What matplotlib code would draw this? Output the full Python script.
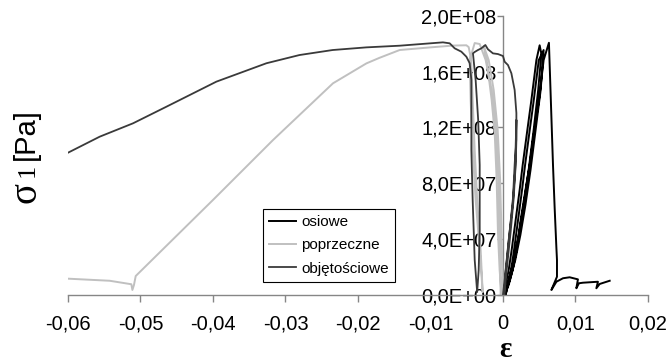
import numpy as np
import matplotlib.pyplot as plt

# odkształcenie osiowe (x) i naprężenie sigma1 (y)
osiowe_eps = [0.00003, 0.00037, 0.00079, 0.00120, 0.00175, 0.00230, 0.00272, 0.00327, 0.00392, 0.00461, 0.00506,
              0.00530, 0.00486, 0.00423, 0.00354, 0.00285, 0.00217, 0.00148, 0.00079, 0.00037,
              0.00070, 0.00112, 0.00153, 0.00208, 0.00263, 0.00305, 0.00360, 0.00425, 0.00494, 0.00561,
              0.00520, 0.00450, 0.00380, 0.00310, 0.00240, 0.00170, 0.00095, 0.00023,
              0.00079, 0.00134, 0.00189, 0.00244, 0.00299, 0.00368, 0.00423, 0.00497, 0.00561, 0.00634,
              0.00690, 0.00713, 0.00737, 0.00745, 0.00745, 0.00668, 0.00737, 0.00828, 0.00920, 0.01034,
              0.01012, 0.01048, 0.01103, 0.01310, 0.01288, 0.01334, 0.01472]
osiowe_sig = [0, 7.0e6, 1.77e7, 3.21e7, 5.36e7, 7.51e7, 9.31e7, 1.146e8, 1.397e8, 1.684e8, 1.79e8,
              1.727e8, 1.469e8, 1.182e8, 8.95e7, 6.44e7, 4.28e7, 2.49e7, 1.05e7, 0,
              7.0e6, 1.77e7, 3.21e7, 5.36e7, 7.51e7, 9.31e7, 1.146e8, 1.397e8, 1.684e8, 1.756e8,
              1.469e8, 1.182e8, 8.95e7, 6.44e7, 4.28e7, 2.49e7, 1.05e7, 0,
              7.0e6, 1.77e7, 3.21e7, 5.36e7, 7.15e7, 9.31e7, 1.146e8, 1.397e8, 1.684e8, 1.808e8,
              9.31e7, 6.22e7, 3.35e7, 2.49e7, 1.29e7, 3.4e6, 9.3e6, 1.18e7, 1.25e7, 1.10e7,
              4.6e6, 8.2e6, 8.6e6, 9.3e6, 4.6e6, 7.7e6, 1.0e7]

poprzeczne_eps = [0, -0.00014, -0.00039, -0.00073, -0.00128, -0.00197, -0.00266,
                  -0.00225, -0.00156, -0.00114, -0.00087, -0.00069, -0.00046, -0.00022,
                  -0.00032, -0.00039, -0.00059, -0.00094, -0.00156, -0.00239, -0.00321, -0.00390,
                  -0.00459, -0.00446, -0.00418, -0.00377, -0.00321, -0.00280,
                  -0.00308, -0.00356, -0.00390, -0.00418, -0.00439, -0.00473,
                  -0.00505, -0.00690, -0.01000, -0.01425, -0.01703, -0.01884, -0.02345, -0.03172, -0.04000,
                  -0.05066, -0.05090, -0.05112, -0.05126, -0.05425, -0.06000]
poprzeczne_sig = [0, 3.21e7, 8.23e7, 1.182e8, 1.469e8, 1.684e8, 1.785e8,
                  1.684e8, 1.397e8, 1.160e8, 8.23e7, 4.43e7, 1.77e7, 1.2e6,
                  0, 3.21e7, 8.23e7, 1.182e8, 1.469e8, 1.684e8, 1.799e8, 1.806e8,
                  1.684e8, 1.397e8, 1.038e8, 6.8e7, 3.21e7, 1.9e6,
                  3.21e7, 6.8e7, 1.038e8, 1.397e8, 1.684e8, 1.777e8,
                  1.79e8, 1.788e8, 1.775e8, 1.756e8, 1.70e8, 1.66e8, 1.517e8, 1.11e8, 6.8e7,
                  1.34e7, 7.0e6, 3.4e6, 7.5e6, 1.0e7, 1.15e7]

objetosciowe_eps = [0, 0.00047, 0.00092, 0.00138, 0.00161, 0.00175, 0.00185,
                    0.00182, 0.00168, 0.00134, 0.00079, 0.00037, 0.00017,
                    0.00058, 0.00106, 0.00148, 0.00175, 0.00185, 0.00185, 0.00161, 0.00116, 0.00069,
                    0.00023, 0, -0.00069, -0.00138, -0.00207, -0.00243, -0.00298, -0.00345, -0.00390, -0.00414,
                    -0.00377, -0.00342, -0.00321, -0.00321, -0.00335, -0.00356,
                    -0.00390, -0.00418, -0.00436, -0.00436, -0.00436, -0.00459, -0.00505, -0.00574, -0.00666,
                    -0.00735, -0.00828, -0.01425, -0.01884, -0.02349, -0.02807, -0.03263, -0.03953, -0.04183,
                    -0.04643, -0.05103, -0.05563, -0.06000]
objetosciowe_sig = [0, 2.13e7, 4.52e7, 6.94e7, 9.31e7, 1.062e8, 1.254e8,
                    1.110e8, 8.95e7, 6.44e7, 3.93e7, 1.77e7, 0,
                    2.13e7, 4.52e7, 6.94e7, 9.31e7, 1.110e8, 1.304e8, 1.469e8, 1.589e8, 1.648e8,
                    1.672e8, 1.713e8, 1.727e8, 1.732e8, 1.761e8, 1.792e8, 1.768e8, 1.756e8, 1.742e8, 1.732e8,
                    1.541e8, 1.254e8, 9.31e7, 4.64e7, 1.77e7, 1.9e6,
                    2.49e7, 6.8e7, 1.038e8, 1.397e8, 1.541e8, 1.661e8, 1.708e8, 1.744e8, 1.768e8,
                    1.804e8, 1.811e8, 1.787e8, 1.775e8, 1.756e8, 1.72e8, 1.661e8, 1.529e8, 1.469e8,
                    1.349e8, 1.23e8, 1.134e8, 1.019e8]

xticks = [-0.06, -0.05, -0.04, -0.03, -0.02, -0.01, 0, 0.01, 0.02]
xlabels = ["-0,06", "-0,05", "-0,04", "-0,03", "-0,02", "-0,01", "0", "0,01", "0,02"]
yticks = [0, 4e7, 8e7, 1.2e8, 1.6e8, 2e8]
ylabels = ["0,0E+00", "4,0E+07", "8,0E+07", "1,2E+08", "1,6E+08", "2,0E+08"]

plt.rcParams['font.family'] = ['Liberation Sans', 'DejaVu Sans']

fig = plt.figure(figsize=(6.68, 3.64), dpi=100)
ax = fig.add_axes([0.1018, 0.1904, 0.8682, 0.7656])

ax.plot(osiowe_eps, osiowe_sig, color="black", lw=1.4, label="osiowe")
ax.plot(poprzeczne_eps, poprzeczne_sig, color="#c0c0c0", lw=1.4, label="poprzeczne")
ax.plot(objetosciowe_eps, objetosciowe_sig, color="#3a3a3a", lw=1.3, label="objętościowe")

ax.set_xlim(-0.06, 0.02)
ax.set_ylim(0, 2e8)
ax.set_xticks(xticks)
ax.set_xticklabels(xlabels)
ax.set_yticks(yticks)
ax.set_yticklabels(ylabels)

for s in ["top", "right"]:
    ax.spines[s].set_visible(False)
ax.spines["left"].set_position(("data", 0))
for s in ["left", "bottom"]:
    ax.spines[s].set_color("#868686")
    ax.spines[s].set_linewidth(1.0)
ax.spines["left"].set_zorder(1)

ax.tick_params(axis="x", direction="out", length=5, width=1, color="#868686", labelsize=14.5, pad=9)
ax.tick_params(axis="y", direction="out", length=4.5, width=1, color="#868686", labelsize=14.5, pad=0)

leg = ax.legend(loc="lower left", bbox_to_anchor=(0.3357, 0.0466), borderaxespad=0,
                fontsize=11, handlelength=1.8, handletextpad=0.3, labelspacing=0.6,
                borderpad=0.4, fancybox=False, framealpha=1)
leg.get_frame().set_edgecolor("black")
leg.get_frame().set_linewidth(0.8)

# opis osi y: sigma1 [Pa]
fig.text(0.0501, 0.6313, "[Pa]", rotation=90, rotation_mode="anchor", ha="center", va="baseline",
         fontsize=21, family="Liberation Sans")
fig.text(0.0501, 0.5308, "1", rotation=90, rotation_mode="anchor", ha="center", va="baseline",
         fontsize=19, family="Liberation Serif")
fig.text(0.0524, 0.472, "σ", rotation=90, rotation_mode="anchor", ha="center", va="baseline",
         fontsize=28, family="Liberation Serif")
# opis osi x: epsilon
fig.text(505 / 668, 0.004, "ε", ha="center", va="bottom", fontsize=21,
         family="Liberation Serif", fontweight="bold")

fig.savefig("out.png", dpi=100)
